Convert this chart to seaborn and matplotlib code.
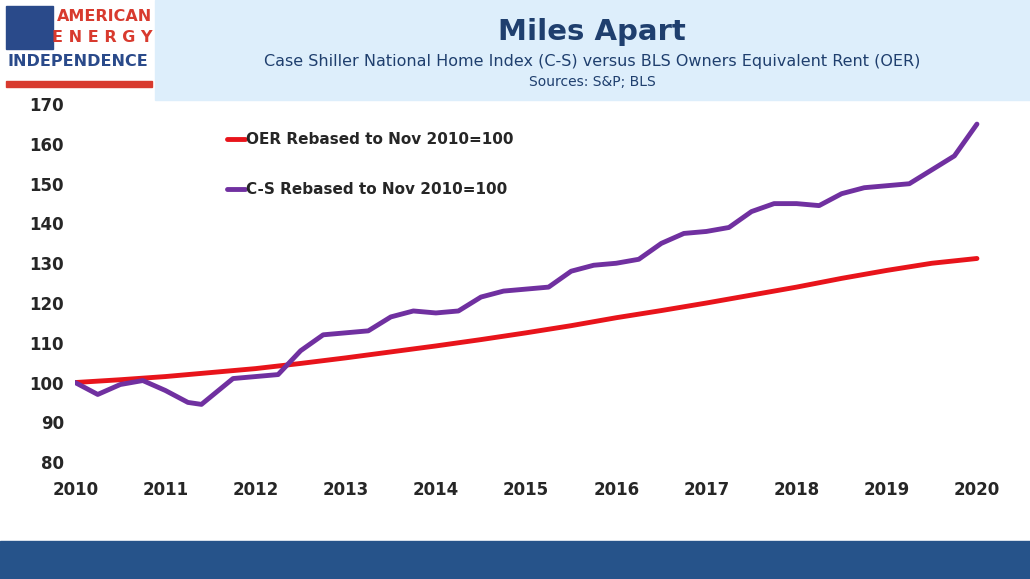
import matplotlib
matplotlib.use("Agg")
import matplotlib.pyplot as plt
import seaborn as sns
import pandas as pd
from matplotlib.patches import Rectangle

# C-S quarterly, OER semi-annual
cs_t = [2010.0, 2010.25, 2010.5, 2010.75, 2011.0, 2011.25, 2011.4, 2011.75, 2012.0, 2012.25,
        2012.5, 2012.75, 2013.0, 2013.25, 2013.5, 2013.75, 2014.0, 2014.25, 2014.5, 2014.75,
        2015.0, 2015.25, 2015.5, 2015.75, 2016.0, 2016.25, 2016.5, 2016.75, 2017.0, 2017.25,
        2017.5, 2017.75, 2018.0, 2018.25, 2018.5, 2018.75, 2019.0, 2019.25, 2019.5, 2019.75, 2020.0]
cs_v = [100, 97, 99.5, 100.5, 98, 95, 94.5, 101, 101.5, 102,
        108, 112, 112.5, 113, 116.5, 118, 117.5, 118, 121.5, 123,
        123.5, 124, 128, 129.5, 130, 131, 135, 137.5, 138, 139,
        143, 145, 145, 144.5, 147.5, 149, 149.5, 150, 153.5, 157, 165]
oer_t = [2010.0, 2010.5, 2011.0, 2011.5, 2012.0, 2012.5, 2013.0, 2013.5, 2014.0, 2014.5, 2015.0,
         2015.5, 2016.0, 2016.5, 2017.0, 2017.5, 2018.0, 2018.5, 2019.0, 2019.5, 2020.0]
oer_v = [100, 100.7, 101.5, 102.5, 103.5, 104.8, 106.2, 107.7, 109.2, 110.8, 112.5,
         114.3, 116.3, 118.1, 120.0, 122.0, 124.0, 126.2, 128.2, 130.0, 131.2]
years = list(range(2010, 2021))

oer = pd.DataFrame({"t": oer_t, "v": oer_v})
cs = pd.DataFrame({"t": cs_t, "v": cs_v})

sns.set_style("white")
plt.rcParams['font.family'] = ['DejaVu Sans']
fig = plt.figure(figsize=(10.3, 5.79), dpi=100)
ax = fig.add_axes([0.073, 0.202, 0.893, 0.618])

sns.lineplot(data=oer, x="t", y="v", ax=ax, color="#e8141b", lw=3.5, label="OER Rebased to Nov 2010=100")
sns.lineplot(data=cs, x="t", y="v", ax=ax, color="#7030a0", lw=3.5, label="C-S Rebased to Nov 2010=100")

ax.set_xlim(2010, 2020.2)
ax.set_ylim(80, 170)
ax.set_xticks(years)
ax.set_yticks(range(80, 171, 10))
ax.tick_params(labelsize=12, length=0)
ax.tick_params(axis="x", pad=14)
ax.tick_params(axis="y", pad=8)
for lab in ax.get_xticklabels() + ax.get_yticklabels():
    lab.set_fontweight("bold")
ax.set_xlabel("")
ax.set_ylabel("")
for s in ax.spines.values():
    s.set_visible(False)
ax.legend(loc="upper left", bbox_to_anchor=(0.15, 0.96), frameon=False, labelspacing=2.3,
          handlelength=1.2, handletextpad=0.05, prop={"weight": "bold", "size": 11})

# header banner
fig.patches.append(Rectangle((0.15, 0.827), 0.85, 0.173, transform=fig.transFigure, color="#ddeefb", zorder=0))
fig.text(0.575, 0.945, "Miles Apart", ha="center", va="center", fontsize=21, fontweight="bold", color="#1f3f6e")
fig.text(0.575, 0.893, "Case Shiller National Home Index (C-S) versus BLS Owners Equivalent Rent (OER)",
         ha="center", va="center", fontsize=11.5, color="#1f3f6e")
fig.text(0.575, 0.858, "Sources: S&P; BLS", ha="center", va="center", fontsize=10, color="#1f3f6e")

# logo
fig.patches.append(Rectangle((0.006, 0.915), 0.045, 0.075, transform=fig.transFigure, color="#2a4a8a"))
fig.text(0.148, 0.972, "AMERICAN", ha="right", va="center", fontsize=11.5, fontweight="bold", color="#d83a2e")
fig.text(0.148, 0.935, "E N E R G Y", ha="right", va="center", fontsize=11.5, fontweight="bold", color="#d83a2e")
fig.text(0.076, 0.893, "INDEPENDENCE", ha="center", va="center", fontsize=11.5, fontweight="bold", color="#2a4a8a")
fig.patches.append(Rectangle((0.006, 0.85), 0.142, 0.01, transform=fig.transFigure, color="#d83a2e"))

# bottom bar
fig.patches.append(Rectangle((0, 0), 1, 0.065, transform=fig.transFigure, color="#26538a"))

fig.savefig("out.png", dpi=100)
